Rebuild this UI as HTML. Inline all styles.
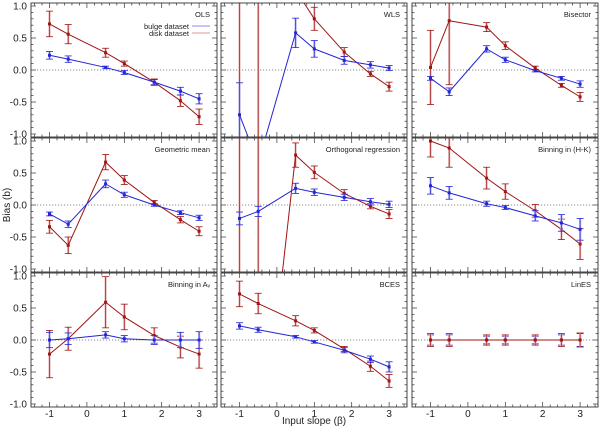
<!DOCTYPE html>
<html><head><meta charset="utf-8"><style>
html,body{margin:0;background:#fff;width:600px;height:427px;overflow:hidden;}
svg{display:block;font-family:"Liberation Sans",sans-serif;overflow:hidden;}
</style></head><body>
<svg id="chart" width="600" height="427" viewBox="0 0 600 427" xmlns="http://www.w3.org/2000/svg"></svg>
<script>
const xVals = [-1, -0.5, 0.5, 1, 1.8, 2.5, 3];
const panelTitles = ["OLS","WLS","Bisector","Geometric mean","Orthogonal regression","Binning in (H-K)","Binning in A\u1d65","BCES","LinES"];
const bulgeVals = [
 [0.23,0.17,0.04,-0.04,-0.19,-0.33,-0.45],
 [-0.7,-1.45,0.58,0.33,0.15,0.08,0.03],
 [-0.13,-0.34,0.33,0.16,-0.01,-0.13,-0.22],
 [-0.14,-0.3,0.33,0.16,0.0,-0.12,-0.2],
 [-0.21,-0.1,0.26,0.2,0.12,0.05,0.01],
 [0.3,0.19,0.02,-0.04,-0.17,-0.28,-0.38],
 [0.0,0.02,0.08,0.02,0.0,0.0,0.0],
 [0.22,0.16,0.05,-0.03,-0.16,-0.3,-0.42],
 [0,0,0,0,0,0,0]
];
const bulgeErr = [
 [0.06,0.05,0.02,0.03,0.04,0.06,0.08],
 [0.5,0.3,0.23,0.13,0.06,0.05,0.04],
 [0.03,0.06,0.05,0.04,0.02,0.03,0.05],
 [0.03,0.05,0.06,0.04,0.02,0.03,0.04],
 [0.1,0.08,0.08,0.05,0.05,0.05,0.05],
 [0.13,0.1,0.04,0.03,0.08,0.13,0.17],
 [0.12,0.09,0.05,0.05,0.07,0.12,0.13],
 [0.05,0.04,0.02,0.02,0.04,0.05,0.08],
 [0.08,0.08,0.06,0.06,0.06,0.08,0.1]
];
const diskVals = [
 [0.72,0.56,0.27,0.1,-0.19,-0.48,-0.73],
 [3,8,1.25,0.8,0.28,-0.06,-0.26],
 [0.04,0.77,0.67,0.38,0.03,-0.24,-0.42],
 [-0.34,-0.63,0.67,0.39,0.04,-0.23,-0.41],
 [-5,-4.4,0.78,0.51,0.18,-0.02,-0.14],
 [1.0,0.89,0.42,0.21,-0.09,-0.38,-0.61],
 [-0.22,0.02,0.59,0.36,0.07,-0.11,-0.22],
 [0.72,0.57,0.3,0.15,-0.14,-0.41,-0.64],
 [0,0,0,0,0,0,0]
];
const diskErr = [
 [0.2,0.15,0.07,0.04,0.05,0.09,0.12],
 [10,10,0.2,0.18,0.07,0.04,0.07],
 [0.58,1.0,0.07,0.06,0.03,0.03,0.07],
 [0.1,0.13,0.12,0.07,0.03,0.05,0.07],
 [10,10,0.19,0.1,0.06,0.04,0.07],
 [0.25,0.3,0.17,0.12,0.1,0.16,0.24],
 [0.37,0.18,0.4,0.2,0.12,0.17,0.22],
 [0.2,0.16,0.08,0.04,0.04,0.08,0.1],
 [0.1,0.1,0.08,0.08,0.08,0.1,0.11]
];
const xTickLabels = ["-1","0","1","2","3"];
const yTickLabels = ["1.0","0.5","0.0","-0.5","-1.0"];

const NS="http://www.w3.org/2000/svg";
const svg=document.getElementById('chart');
function mk(tag,attrs,parent){const e=document.createElementNS(NS,tag);for(const k in attrs)e.setAttribute(k,attrs[k]);(parent||svg).appendChild(e);return e;}
const lefts=[31,221,412], W=186;
const BLUE="#2424d8", BLUEL="#b4b4f4", RED="#a01414", REDL="#e8b8b8";

for(let p=0;p<9;p++){
  const c=p%3, r=Math.floor(p/3);
  const L=lefts[c], y0=70+135*r, T=y0-67, B=y0+67;
  const sx=x=>L+18.5+(x+1)*37.4;
  const sy=v=>y0-v*64;
  const cl=y=>Math.max(T,Math.min(B,y));
  const g=mk('g',{});
  
  
  for(let v=-1;v<=1.001;v+=0.1){
    const major=Math.abs(Math.round(v*10)%5)===0;const len=major?5:2.5;const yy=sy(v);
    mk('line',{x1:L,x2:L+len,y1:yy,y2:yy,stroke:'#333','stroke-width':0.7},g);
    mk('line',{x1:L+W,x2:L+W-len,y1:yy,y2:yy,stroke:'#333','stroke-width':0.7},g);
  }
  for(let x=-1.4;x<=3.45;x+=0.2){
    const xx=sx(x);if(xx<L||xx>L+W)continue;
    const major=Math.abs(x-Math.round(x))<0.01;const len=major?5:2.5;
    mk('line',{x1:xx,x2:xx,y1:T,y2:T+len,stroke:'#333','stroke-width':0.7},g);
    mk('line',{x1:xx,x2:xx,y1:B,y2:B-len,stroke:'#333','stroke-width':0.7},g);
  }
  mk('line',{x1:L,x2:L+W,y1:y0,y2:y0,stroke:'#666','stroke-width':0.8,'stroke-dasharray':'1.2,1.8'},g);
  const title=mk('text',{x:L+W-7,y:T+14,'font-size':7.5,'text-anchor':'end',fill:'#222'},g);
  title.textContent=panelTitles[p];
  
  
  const inner=mk('g',{},g);
  const series=[[diskVals[p],diskErr[p],RED,REDL,'disk'],[bulgeVals[p],bulgeErr[p],BLUE,BLUEL,'bulge']];
  if(p===8) series.reverse();
  for(const [vals,errs,col,lc,nm] of series){
    const sg=mk('g',{},inner);
    
    
    for(let i=0;i<xVals.length;i++){
      const xx=sx(xVals[i]),ry1=sy(vals[i]+errs[i]),ry2=sy(vals[i]-errs[i]);
      if(ry2<T||ry1>B) continue;
      const y1=cl(ry1),y2=cl(ry2);
      mk('line',{x1:xx,x2:xx,y1:y1,y2:y2,stroke:lc,'stroke-width':2.2},sg);
      mk('line',{x1:xx,x2:xx,y1:y1,y2:y2,stroke:col,'stroke-width':0.7},sg);
      if(ry1>=T) mk('line',{x1:xx-3.5,x2:xx+3.5,y1:y1,y2:y1,stroke:col,'stroke-width':0.8},sg);
      if(ry2<=B) mk('line',{x1:xx-3.5,x2:xx+3.5,y1:y2,y2:y2,stroke:col,'stroke-width':0.8},sg);
    }
    for(let i=0;i<xVals.length-1;i++){
      let xa=sx(xVals[i]),ya=sy(vals[i]),xb=sx(xVals[i+1]),yb=sy(vals[i+1]);
      let t0=0,t1=1;const dy=yb-ya;
      if(dy!==0){
        const ta=(T-ya)/dy, tb=(B-ya)/dy;
        t0=Math.max(t0,Math.min(ta,tb)); t1=Math.min(t1,Math.max(ta,tb));
      } else if(ya<T||ya>B) continue;
      if(t0>=t1) continue;
      const seg=mk('line',{x1:xa+(xb-xa)*t0,y1:ya+dy*t0,x2:xa+(xb-xa)*t1,y2:ya+dy*t1,stroke:col,'stroke-width':1},sg);
      
      
    }
    for(let i=0;i<xVals.length;i++){
      const yy=sy(vals[i]);if(yy<T||yy>B)continue;
      const pt=mk('rect',{x:sx(xVals[i])-1.5,y:yy-1.5,width:3,height:3,fill:col},sg);
      
      
    }
  }
  mk('rect',{x:L,y:T,width:W,height:B-T,fill:'none',stroke:'#333','stroke-width':0.9},g);
  if(c===0){
    yTickLabels.forEach((t,i)=>{const v=1-i*0.5;const tx=mk('text',{x:27,y:sy(v)+3.5,'font-size':10,'text-anchor':'end',fill:'#222'});tx.textContent=t;
      });
  }
  if(r===2){
    xTickLabels.forEach((t,i)=>{const tx=mk('text',{x:sx(i-1),y:417,'font-size':10,'text-anchor':'middle',fill:'#222'});tx.textContent=t;
      });
  }
  if(p===0){
    const lg=mk('g',{});
    
    
    const t1=mk('text',{x:L+W-28,y:T+26,'font-size':7.5,'text-anchor':'end',fill:'#222'},lg);t1.textContent='bulge dataset';
    
    mk('line',{x1:L+W-25,x2:L+W-7,y1:T+23,y2:T+23,stroke:BLUEL,'stroke-width':1.5},lg);
    const t2=mk('text',{x:L+W-28,y:T+33,'font-size':7.5,'text-anchor':'end',fill:'#222'},lg);t2.textContent='disk dataset';
    
    mk('line',{x1:L+W-25,x2:L+W-7,y1:T+30,y2:T+30,stroke:REDL,'stroke-width':1.5},lg);
  }
}
const xt=mk('text',{x:314,y:424,'font-size':10,'text-anchor':'middle',fill:'#222'});xt.textContent='Input slope (\u03b2)';

const yt=mk('text',{x:10,y:205,'font-size':10,'text-anchor':'middle',fill:'#222',transform:'rotate(-90 10 205)'});yt.textContent='Bias (b)';

</script>
</body></html>
